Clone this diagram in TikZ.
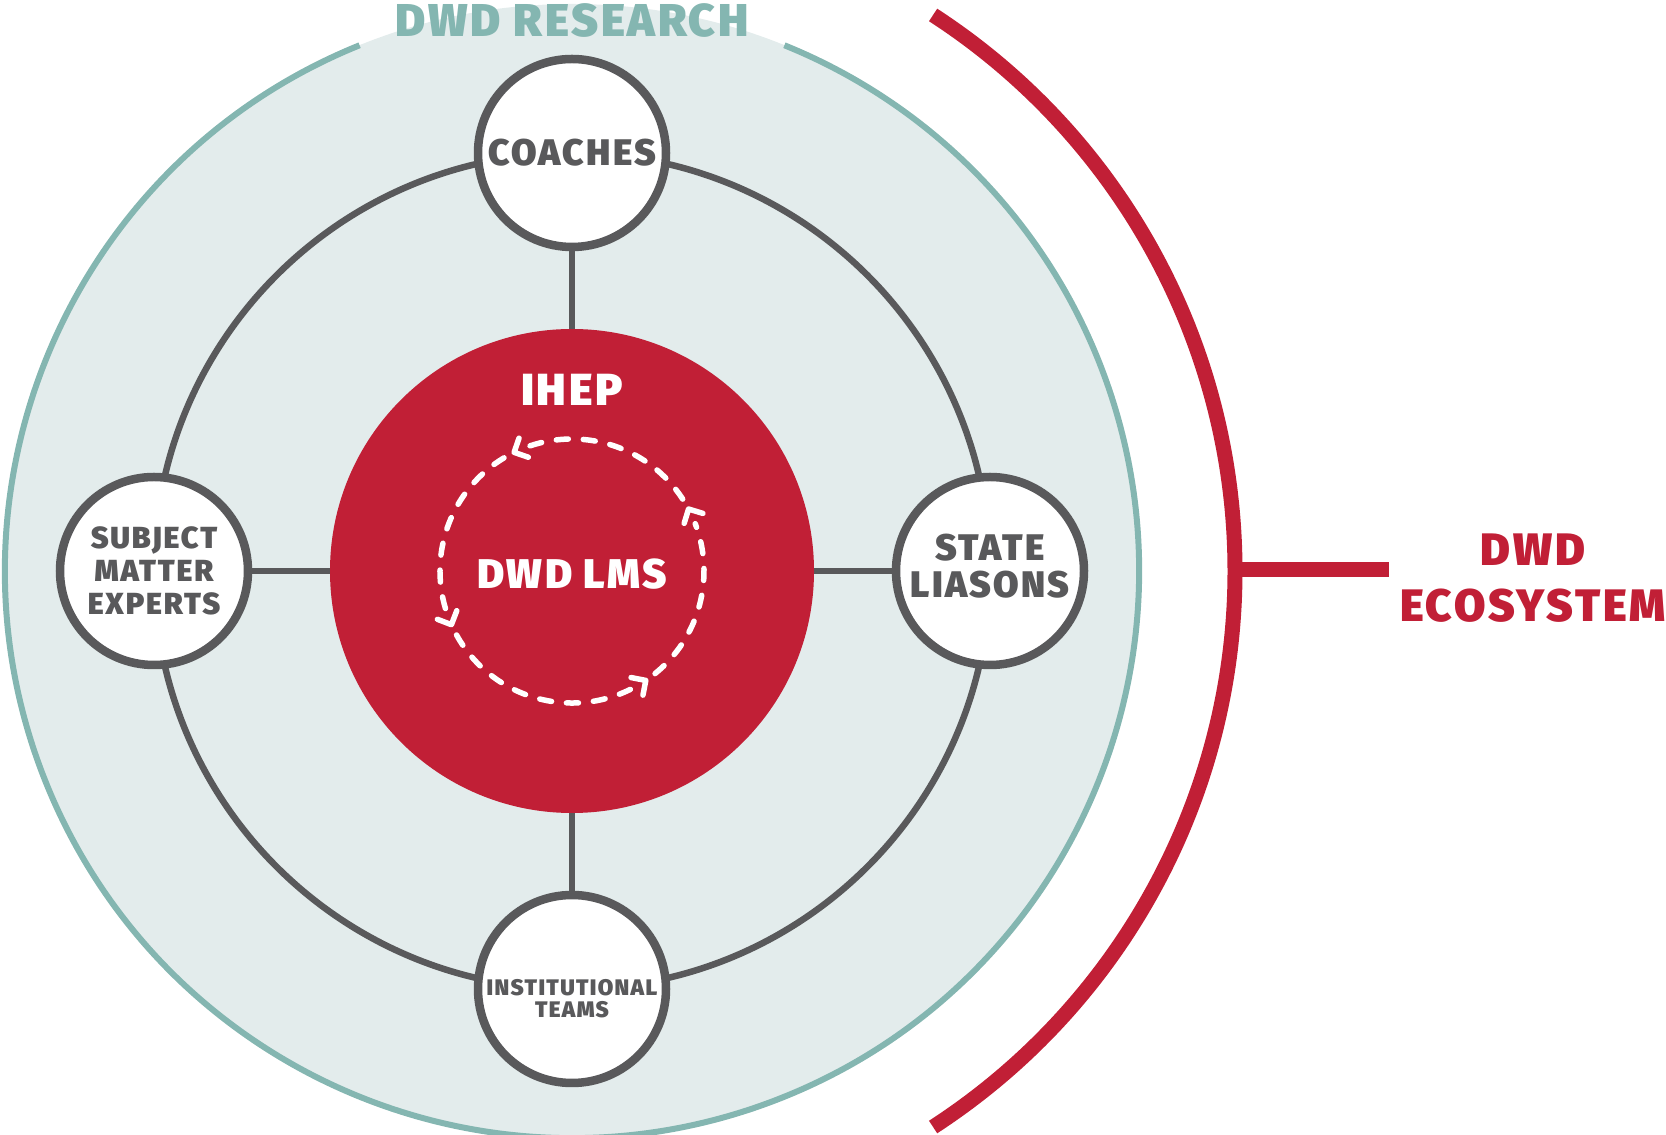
\documentclass[tikz,border=0pt]{standalone}
\usepackage{fontspec}
\newfontfamily\hv{Fira Sans Black}[LetterSpace=6]
\definecolor{teal1}{HTML}{84B6B1}
\definecolor{tealfill}{HTML}{E3ECEC}
\definecolor{gry}{HTML}{59595B}
\definecolor{rd}{HTML}{C11F36}
\tikzset{
  member/.style={circle, draw=gry, line width=8.5pt, fill=white, minimum size=188pt, inner sep=0pt, text=gry, align=center},
  conn/.style={draw=gry, line width=6.5pt},
  cycdash/.style={draw=white, line width=5.5pt, line cap=round, dash pattern=on 12pt off 15pt},
  chev/.style={draw=white, line width=5.5pt, line cap=round, line join=round},
  lbl/.style={inner sep=0pt, align=center}
}
\begin{document}
\begin{tikzpicture}[x=1pt,y=1pt]
\useasboundingbox (0,0) rectangle (1666,1135);
\coordinate (C) at (572,564);
% research circle
\fill[tealfill] (C) circle (567);
\draw[teal1, line width=6pt] (C) ++(112:567) arc[start angle=112, end angle=428, radius=567];
\node[lbl, text=teal1, font=\hv\fontsize{46}{48}\selectfont] (research) at (572,1114) {DWD RESEARCH};
% orbit
\draw[conn] (C) circle (418);
% core
\node[circle, fill=rd, minimum size=484pt, inner sep=0pt] (core) at (C) {};
% members
\node[member, font=\hv\fontsize{37}{37}\selectfont] (coaches) at (572,982) {COACHES};
\node[member, font=\hv\fontsize{30.5}{33}\selectfont] (sme) at (154,564) {SUBJECT\\MATTER\\EXPERTS};
\node[member] (state) at (990,564) {};
\node[lbl, text=gry, font=\hv\fontsize{37}{37}\selectfont] (statetext) at (990,569) {STATE\\LIASONS};
\node[member] (inst) at (572,146) {};
\node[lbl, text=gry, font=\hv\fontsize{22.5}{22}\selectfont] (insttext) at (572,136) {INSTITUTIONAL\\TEAMS};
% connectors
\draw[conn] (core) -- (coaches);
\draw[conn] (core) -- (sme);
\draw[conn] (core) -- (state);
\draw[conn] (core) -- (inst);
% core texts
\node[lbl, text=white, font=\hv\fontsize{45}{48}\selectfont] (ihep) at (572,745) {IHEP};
\node[lbl, text=white, font=\hv\fontsize{41.5}{44}\selectfont] (lms) at (572,561) {DWD LMS};
% cycle: dashed arcs between chevrons (counterclockwise)
\foreach \a/\n in {28/116,116/204,204/304,304/388}{
  \draw[cycdash] (C) ++(\a+5:132) arc[start angle=\a+5, end angle=\n-7, radius=132];
  \draw[chev] (C) ++(\a:132) ++(\a-45:15) -- ++(\a+135:15) -- ++(\a-135:15);
}
% ecosystem bracket
\draw[rd, line width=15pt] (C) ++(-57:663) arc[start angle=-57, end angle=57, radius=663];
\coordinate (brk) at (1235,565);
\coordinate (stubend) at (1389,565);
\draw[rd, line width=15pt] (brk) -- (stubend);
\node[lbl, text=rd, font=\hv\fontsize{45.5}{56}\selectfont] (eco) at (1533,557) {DWD\\ECOSYSTEM};
\end{tikzpicture}
\end{document}
